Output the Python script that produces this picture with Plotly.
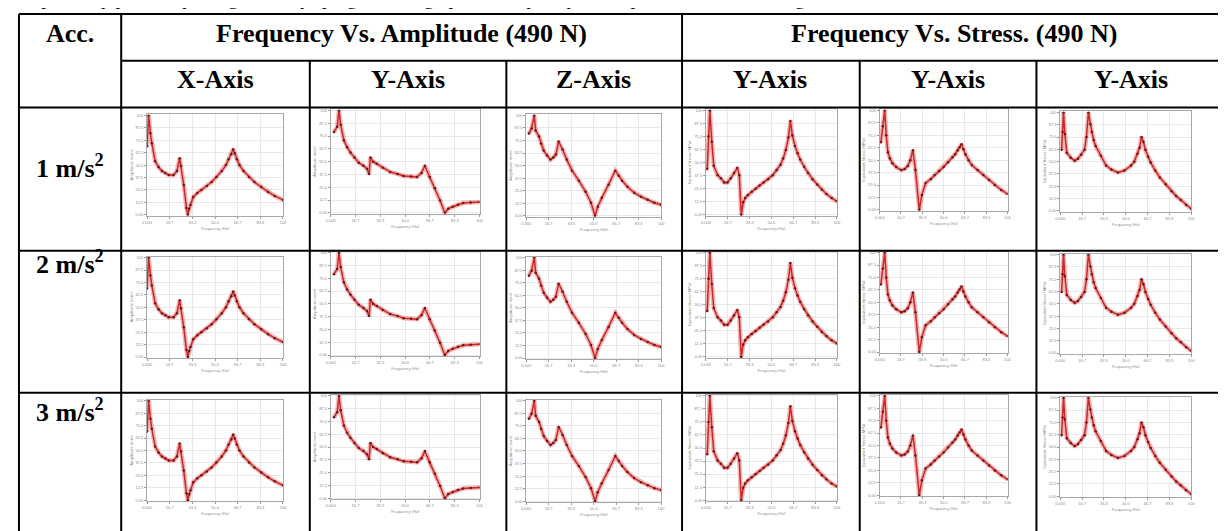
import plotly.graph_objects as go

W, H = 1226, 531

# ---------------- data (read from the thumbnails, normalised 0-100 of each panel) ----------------
acc_labels = ["1 m/s<sup>2</sup>", "2 m/s<sup>2</sup>", "3 m/s<sup>2</sup>"]
group_titles = ["Frequency Vs. Amplitude (490 N)", "Frequency Vs. Stress. (490 N)"]
axis_titles = ["X-Axis", "Y-Axis", "Z-Axis", "Y-Axis", "Y-Axis", "Y-Axis"]
intro_text = "respectively plotted by using the Ansys program; the graphs of frequency vs. amplitude and stress are given in table"

freq_amp_x = [0, 1.2, 2.5, 3.5, 6, 8.5, 11, 13.5, 16, 19.5, 22, 24, 25, 27, 29, 30, 31, 32, 34, 37, 40, 44, 47.5, 51, 55, 58, 60, 62, 63.4, 64.5, 66, 68, 71, 75, 79, 84, 89, 94, 100]
amp_x = [69, 100, 82, 72, 54, 48, 44, 42, 40, 40, 44, 57, 49, 30, 7, 0, 6, 10, 18, 22, 25, 29, 33, 38, 44, 50, 56, 61, 66, 62, 56, 50, 44, 38, 33, 28, 23, 19, 15]

freq_amp_y = [2.2, 4.4, 5.6, 6.7, 8.9, 11, 13.3, 16, 18.9, 22, 24.4, 25.8, 26.7, 28.5, 31, 35, 40, 45, 49, 54, 58, 61, 63.3, 66.5, 70, 73.5, 76.7, 79, 82, 85.5, 89, 94, 100]
amp_y = [79, 84, 100, 86, 71, 64, 59, 54, 49, 46, 43, 38, 54, 50, 48, 44, 40, 38, 36, 35.5, 35, 39, 46, 35, 24, 12, 0, 4, 6, 8, 9.5, 10, 10.5]

freq_amp_z = [2, 4, 6, 7, 9.5, 11, 13, 15.5, 18, 20, 22, 24, 27, 30, 34, 39, 44, 48, 51, 53, 56, 61, 66, 68.5, 71, 75, 80, 85, 90, 95, 100]
amp_z = [82, 87, 100, 85, 79, 72, 65, 60, 56, 58, 61, 74, 66, 56, 45, 35, 24, 13, 0, 9, 18, 31, 45, 40, 35, 29, 23, 19, 16, 13, 11]

freq_str_1 = [1, 2, 3, 4.5, 6, 9, 11.5, 14, 16.5, 19, 21.5, 24, 25.5, 27, 28.5, 30, 32, 35, 38, 41, 44, 47.5, 51, 54, 57, 59, 61, 63, 64.5, 66, 68, 70, 72, 75, 78, 81.5, 85, 88.5, 92, 96, 100]
str_1 = [44, 75, 100, 70, 47, 38, 35, 31, 31, 35, 40, 45, 38, 0, 12, 16, 19, 22, 25, 28, 31, 34, 38, 43, 48, 54, 62, 74, 90, 76, 66, 59, 53, 46, 40, 34, 29, 24, 20, 16, 13]

freq_str_2 = [1, 2.5, 4, 5.2, 6.5, 8, 10, 13, 17, 19.5, 22, 24, 26, 28, 31, 33, 36, 40, 43, 46.5, 50, 53.5, 57, 59, 61, 62.5, 64, 65.5, 67, 69.5, 72, 76.5, 81, 85.5, 90, 95, 100]
str_2 = [68, 84, 100, 75, 58, 52, 47, 43, 40, 41, 44, 50, 60, 40, 0, 15, 27, 31, 35, 39, 43, 48, 53, 56, 60, 63, 66, 61, 56, 50, 45, 40, 35, 30, 25, 20, 16]

freq_str_3 = [1, 1.8, 2.5, 3.5, 5, 8, 11, 13.5, 16, 18.5, 20, 21.5, 23, 24, 25.5, 27, 31, 35, 39, 44, 49, 54, 56.5, 59, 60.5, 62, 63.5, 65, 67, 69, 72.5, 76, 80.5, 85, 88.5, 92, 96, 100]
str_3 = [62, 80, 100, 78, 59, 54, 51, 53, 57, 62, 75, 100, 88, 80, 72, 66, 56, 46, 42, 39, 41, 46, 50, 58, 64, 75, 70, 62, 55, 49, 41, 34, 27, 20, 15, 11, 6, 2]

curves = [(freq_amp_x, amp_x), (freq_amp_y, amp_y), (freq_amp_z, amp_z),
          (freq_str_1, str_1), (freq_str_2, str_2), (freq_str_3, str_3)]
y_titles = ["Amplitude (mm)"] * 3 + ["Equivalent Stress (MPa)"] * 3
x_tick_labels = ["0.000", "16.7", "33.3", "50.0", "66.7", "83.3", "100"]
y_tick_labels = ["0.00", "12.5", "25.0", "37.5", "50.0", "62.5", "75.0", "87.5", "100"]

# ---------------- layout geometry (pixels) ----------------
col_px = [(135, 272), (320, 470), (517, 653), (698, 830), (873, 1002), (1055, 1187)]
col_py = [(105, 207), (100, 205), (105, 208), (100, 207), (100, 202), (102, 203)]
row_off = [0, 143, 287]

def px(x):
    return x / W

def py(y):
    return 1 - y / H

fig = go.Figure()
layout = dict(width=W, height=H, margin=dict(l=0, r=0, t=0, b=0),
              paper_bgcolor="white", plot_bgcolor="white", showlegend=False)

n = 0
for r in range(3):
    for c in range(6):
        n += 1
        xa = "x" if n == 1 else f"x{n}"
        ya = "y" if n == 1 else f"y{n}"
        xs, ys = curves[c]
        fig.add_trace(go.Scatter(x=xs, y=ys, xaxis=xa, yaxis=ya, mode="lines",
                                 line=dict(color="rgba(235,90,90,0.45)", width=4.5),
                                 hoverinfo="skip"))
        fig.add_trace(go.Scatter(x=xs, y=ys, xaxis=xa, yaxis=ya, mode="lines+markers",
                                 line=dict(color="#c92828", width=1.5),
                                 marker=dict(size=2.5, color="#6e1414"),
                                 hoverinfo="skip"))
        x0, x1 = col_px[c]
        y0, y1 = col_py[c]
        y0 += row_off[r]
        y1 += row_off[r]
        common = dict(showgrid=True, gridcolor="#e8e8e8", gridwidth=0.6,
                      showline=True, linecolor="#a8a8a8", linewidth=0.8, mirror=True,
                      ticks="outside", ticklen=2, tickcolor="#999",
                      tickfont=dict(size=4, color="#8a8a8a", family="Arial"),
                      zeroline=False, fixedrange=True)
        layout["xaxis" if n == 1 else f"xaxis{n}"] = dict(
            common, domain=[px(x0), px(x1)], anchor=ya, range=[0, 100],
            tickvals=[0, 16.67, 33.33, 50, 66.67, 83.33, 100], ticktext=x_tick_labels,
            title=dict(text="Frequency (Hz)", font=dict(size=4, color="#777"), standoff=3))
        layout["yaxis" if n == 1 else f"yaxis{n}"] = dict(
            common, domain=[py(y1), py(y0)], anchor=xa, range=[-1, 101],
            tickvals=[0, 12.5, 25, 37.5, 50, 62.5, 75, 87.5, 100], ticktext=y_tick_labels,
            title=dict(text=y_titles[c], font=dict(size=4, color="#777"), standoff=2))

fig.update_layout(**layout)

# ---------------- table lines ----------------
LW = 2
hlines = [(4, 6, 1221), (51, 109, 1221), (98, 6, 1221), (242, 6, 1221), (385, 6, 1221), (528, 6, 1221)]
vlines = [(6, 4, 528), (109, 4, 528), (674, 4, 528), (1221, 4, 528),
          (299, 51, 528), (497, 51, 528), (853, 51, 528), (1031, 51, 528)]
shapes = []
for y, xa0, xa1 in hlines:
    shapes.append(dict(type="line", xref="paper", yref="paper", x0=px(xa0), x1=px(xa1),
                       y0=py(y), y1=py(y), line=dict(color="black", width=LW)))
for x, ya0, ya1 in vlines:
    shapes.append(dict(type="line", xref="paper", yref="paper", x0=px(x), x1=px(x),
                       y0=py(ya0), y1=py(ya1), line=dict(color="black", width=LW)))
fig.update_layout(shapes=shapes)

# ---------------- texts ----------------
font_b = dict(family="Liberation Serif, Times New Roman, serif", size=26, color="black")
ann = []
def add_text(t, x, y):
    ann.append(dict(text=f"<b>{t}</b>", x=px(x), y=py(y), xref="paper", yref="paper",
                    showarrow=False, xanchor="center", yanchor="middle", font=font_b))

add_text("Acc.", 57, 24)
add_text(group_titles[0], 391, 24)
add_text(group_titles[1], 948, 24)
sub_cx = [204, 398, 585, 763, 942, 1126]
for t, cx in zip(axis_titles, sub_cx):
    add_text(t, cx, 70)
row_ly = [157, 254, 403]
for t, yy in zip(acc_labels, row_ly):
    add_text(t, 57, yy)
# partially visible paragraph line above the table (only its lower part shows)
ann.append(dict(text=intro_text, x=px(4), y=py(1), xref="paper", yref="paper",
                showarrow=False, xanchor="left", yanchor="bottom",
                font=dict(family="Liberation Serif, Times New Roman, serif", size=19, color="black")))
fig.update_layout(annotations=ann)

fig.write_html("out.html")
